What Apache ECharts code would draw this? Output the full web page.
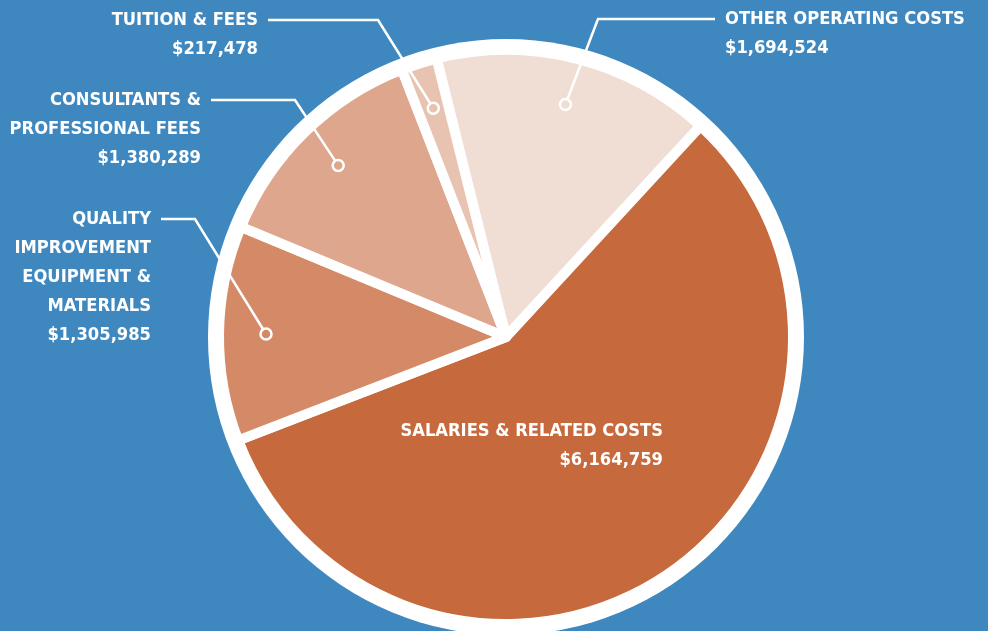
<!DOCTYPE html>
<html>
<head>
<meta charset="utf-8">
<script src="https://cdn.jsdelivr.net/npm/echarts@6/dist/echarts.min.js"></script>
<style>
html,body{margin:0;padding:0;background:#3e88bf;}
#chart{width:988px;height:631px;}
</style>
</head>
<body>
<div id="chart"></div>
<script>
// spending categories, clockwise from the top
const categories = ['OTHER OPERATING COSTS', 'SALARIES & RELATED COSTS', 'QUALITY\nIMPROVEMENT\nEQUIPMENT &\nMATERIALS', 'CONSULTANTS &\nPROFESSIONAL FEES', 'TUITION & FEES'];
const amounts = [1694524, 6164759, 1305985, 1380289, 217478];
const sliceColors = ['#f0ddd3', '#c6693c', '#d48a67', '#dea68d', '#e8c3b1'];

const center = [506, 337];
const startAngle = 104;
const LINE_H = 29;
const font = "'Liberation Sans Narrow', 'DejaVu Sans Condensed', 'Noto Sans', sans-serif";

// where each label sits: text anchor x, centre of first text line, x of the leader bend
const labelPlace = [
  {x: 725, y: 19, bend: 598, align: 'left'},
  {x: 663, y: 431, align: 'right'},
  {x: 151, y: 219, bend: 195, align: 'right'},
  {x: 201, y: 100, bend: 295, align: 'right'},
  {x: 258, y: 20, bend: 378, align: 'right'}
];

const total = amounts.reduce((a, b) => a + b, 0);
let acc = 0;
const mids = amounts.map(v => { const m = acc + v / 2; acc += v; return m; });

const sliceData = categories.map((name, i) => ({
  name: name, value: amounts[i], itemStyle: {color: sliceColors[i]}
}));
const labelData = categories.map((name, i) => ({
  name: name, value: amounts[i],
  labelLine: {show: labelPlace[i].bend != null}
}));
const markerData = [];
mids.forEach((m, i) => {
  if (labelPlace[i].bend != null) {
    markerData.push({value: [1, m], itemStyle: {color: sliceColors[i]}});
  }
});

let chart = echarts.init(document.getElementById('chart'));
let option = {
  backgroundColor: '#3e88bf',
  animation: false,
  polar: {center: center, radius: 240},
  angleAxis: {type: 'value', min: 0, max: total, startAngle: startAngle, clockwise: true, show: false},
  radiusAxis: {type: 'value', min: 0, max: 1, show: false},
  series: [{
    // white disc behind the slices
    type: 'pie',
    silent: true,
    z: 1,
    center: center,
    radius: 298,
    label: {show: false},
    labelLine: {show: false},
    itemStyle: {color: '#fff'},
    data: [{value: 1}]
  }, {
    type: 'pie',
    silent: true,
    z: 2,
    center: center,
    radius: 287,
    startAngle: startAngle,
    clockwise: true,
    label: {show: false},
    labelLine: {show: false},
    itemStyle: {borderColor: '#fff', borderWidth: 10},
    data: sliceData
  }, {
    // transparent copy that carries the labels and leader lines
    type: 'pie',
    silent: true,
    z: 4,
    center: center,
    radius: 240,
    startAngle: startAngle,
    clockwise: true,
    avoidLabelOverlap: false,
    itemStyle: {color: 'rgba(0,0,0,0)'},
    label: {
      show: true,
      position: 'outside',
      color: '#fff',
      fontFamily: font,
      fontWeight: 'bold',
      fontSize: 18.2,
      lineHeight: LINE_H,
      formatter: function (p) {
        return p.name + '\n$' + p.value.toLocaleString('en-US');
      }
    },
    labelLine: {
      show: true,
      length: 20,
      length2: 20,
      lineStyle: {color: '#fff', width: 2.5}
    },
    labelLayout: function (p) {
      const lp = labelPlace[p.dataIndex];
      const out = {x: lp.x, y: lp.y - LINE_H / 2, align: lp.align, verticalAlign: 'top'};
      if (lp.bend != null && p.labelLinePoints) {
        const end = lp.align === 'left' ? lp.x - 10 : lp.x + 10;
        out.labelLinePoints = [p.labelLinePoints[0], [lp.bend, lp.y], [end, lp.y]];
      }
      return out;
    },
    data: labelData
  }, {
    type: 'scatter',
    coordinateSystem: 'polar',
    silent: true,
    z: 6,
    symbol: 'circle',
    symbolSize: 11,
    itemStyle: {borderColor: '#fff', borderWidth: 2.5, opacity: 1},
    data: markerData
  }]
};
chart.setOption(option);
</script>
</body>
</html>
